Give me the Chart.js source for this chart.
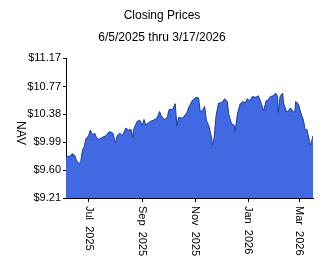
<!DOCTYPE html>
<html>
<head>
<meta charset="utf-8">
<script src="https://cdn.jsdelivr.net/npm/chart.js@4.4.1/dist/chart.umd.min.js"></script>
<style>
  html, body { margin: 0; padding: 0; background: #fff; }
  canvas { display: block; }
</style>
</head>
<body>
<canvas id="grafico" width="324" height="267"></canvas>
<script>
// day 0 = 6/5/2025
const dias = [0, 1, 5, 7, 8, 10, 12, 15, 17, 19, 21, 23, 26, 28, 31, 33, 35, 38, 42, 46, 50, 54, 57, 59, 62, 65,
  69, 72, 75, 77, 78, 82, 85, 88, 90, 92, 97, 101, 105, 108, 110, 114, 117, 119, 123, 126, 128, 130, 133, 135,
  137, 139, 142, 146, 150, 153, 155, 158, 160, 162, 165, 168, 169, 171, 173, 176, 178, 181, 183, 186, 188, 191,
  194, 195, 198, 201, 204, 207, 209, 212, 215, 219, 222, 226, 228, 231, 233, 236, 239, 242, 244, 245, 247, 250,
  251, 254, 256, 259, 262, 264, 265, 268, 271, 274, 276, 278, 281, 282, 284, 285];
const nav = [9.78, 9.78, 9.80, 9.83, 9.80, 9.81, 9.74, 9.69, 9.72, 9.88, 9.93, 10.04, 10.08, 10.16, 10.09, 10.12,
  10.06, 10.03, 10.06, 10.08, 10.14, 10.12, 9.98, 10.08, 10.12, 10.08, 10.19, 10.16, 10.17, 10.06, 10.17, 10.28,
  10.30, 10.23, 10.31, 10.23, 10.28, 10.30, 10.33, 10.42, 10.36, 10.30, 10.35, 10.45, 10.45, 10.53, 10.22, 10.34,
  10.33, 10.33, 10.37, 10.39, 10.49, 10.58, 10.62, 10.61, 10.41, 10.45, 10.49, 10.30, 10.21, 10.05, 9.95, 10.06,
  10.35, 10.54, 10.54, 10.56, 10.60, 10.56, 10.37, 10.25, 10.23, 10.14, 10.40, 10.53, 10.56, 10.54, 10.60, 10.57,
  10.63, 10.62, 10.64, 10.51, 10.43, 10.57, 10.58, 10.63, 10.64, 10.68, 10.63, 10.41, 10.63, 10.68, 10.54, 10.43,
  10.42, 10.47, 10.42, 10.41, 10.56, 10.53, 10.40, 10.30, 10.16, 10.17, 10.00, 9.95, 10.03, 10.08];

const yTicks = [9.21, 9.60, 9.99, 10.38, 10.77, 11.17];
const xTickDias = [26, 88, 149, 210, 269];
const xTickLabels = ['Jul  2025', 'Sep  2025', 'Nov  2025', 'Jan  2026', 'Mar  2026'];

const titulo = 'Closing Prices';
const subtitulo = '6/5/2025 thru 3/17/2026';
const eixoY = 'NAV';

const FONTE = '11px "Liberation Sans", Arial, sans-serif';

// textos girados 90 graus (horario) e titulos
const textos = {
  id: 'textos',
  afterDraw(chart) {
    const ctx = chart.ctx;
    const xs = chart.scales.x;
    const area = chart.chartArea;
    ctx.save();
    ctx.fillStyle = '#000';
    ctx.font = '12px "Liberation Sans", Arial, sans-serif';
    ctx.textAlign = 'center';
    ctx.textBaseline = 'middle';
    ctx.fillText(titulo, 162, 16);
    ctx.fillText(subtitulo, 162, 38);

    ctx.font = FONTE;
    xTickDias.forEach((d, i) => {
      const px = xs.getPixelForValue(d);
      ctx.save();
      ctx.translate(px, area.bottom + 8);
      ctx.rotate(Math.PI / 2);
      ctx.textAlign = 'left';
      ctx.textBaseline = 'middle';
      ctx.fillText(xTickLabels[i], 0, 0);
      ctx.restore();
    });

    ctx.save();
    ctx.translate(20, 133);
    ctx.rotate(Math.PI / 2);
    ctx.font = '12px "Liberation Sans", Arial, sans-serif';
    ctx.textAlign = 'center';
    ctx.textBaseline = 'middle';
    ctx.fillText(eixoY, 0, 0);
    ctx.restore();
    ctx.restore();
  }
};

new Chart(document.getElementById('grafico'), {
  type: 'line',
  data: {
    datasets: [{
      data: dias.map((d, i) => ({ x: d, y: nav[i] })),
      borderColor: '#1c3a9c',
      borderWidth: 1,
      backgroundColor: '#4169e1',
      fill: 'start',
      pointRadius: 0,
      tension: 0
    }]
  },
  options: {
    responsive: false,
    animation: false,
    layout: { padding: { top: 58, right: 11, left: 0, bottom: 0 } },
    plugins: { legend: { display: false }, tooltip: { enabled: false } },
    scales: {
      x: {
        type: 'linear',
        min: 0,
        max: 285,
        afterBuildTicks: s => { s.ticks = xTickDias.map(v => ({ value: v })); },
        afterFit: s => { s.height = 69; },
        ticks: { display: false },
        grid: { drawOnChartArea: false, tickLength: 4, color: '#000', tickColor: '#000' },
        border: { color: '#000', width: 1 }
      },
      y: {
        min: 9.21,
        max: 11.17,
        afterBuildTicks: s => { s.ticks = yTicks.map(v => ({ value: v })); },
        afterFit: s => { s.width = 66; },
        ticks: {
          color: '#000',
          font: { family: '"Liberation Sans", Arial, sans-serif', size: 11 },
          padding: 2,
          callback: v => '$' + Number(v).toFixed(2)
        },
        grid: { drawOnChartArea: false, tickLength: 3, color: '#000', tickColor: '#000' },
        border: { color: '#000', width: 1 }
      }
    }
  },
  plugins: [textos]
});
</script>
</body>
</html>
